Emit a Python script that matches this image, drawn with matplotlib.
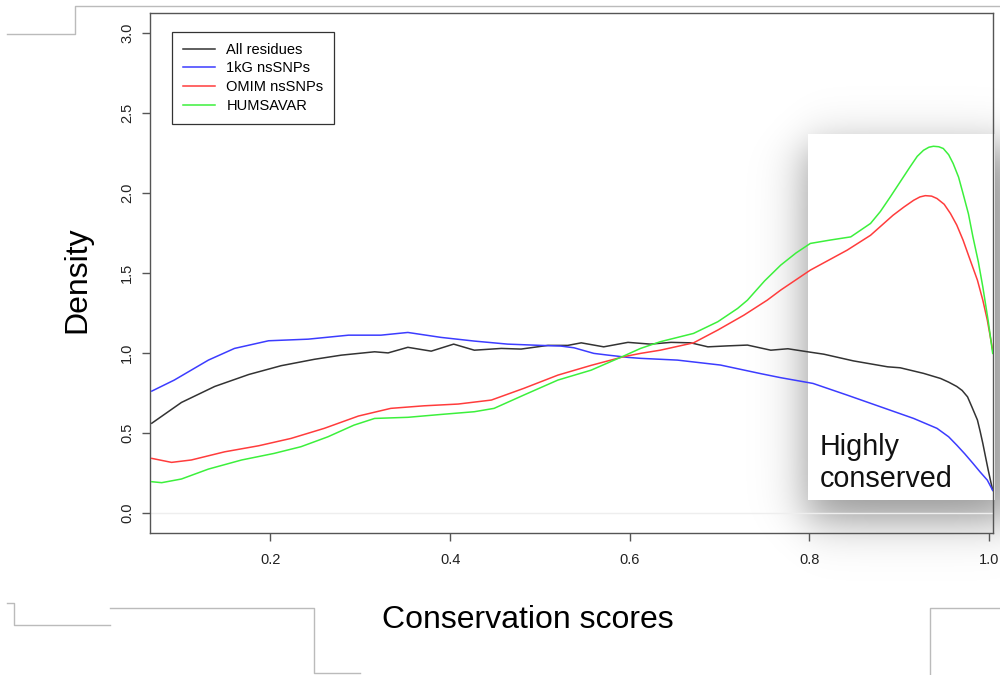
import numpy as np
import matplotlib
matplotlib.use("Agg")
import matplotlib.pyplot as plt
from matplotlib.lines import Line2D
from matplotlib.patches import Rectangle

plt.rcParams['font.family'] = ['Liberation Sans', 'DejaVu Sans']

W, H = 1000, 675

# density curves
x_all = [0.068, 0.101, 0.138, 0.176, 0.212, 0.249, 0.279, 0.316, 0.331, 0.353,
         0.379, 0.404, 0.427, 0.457, 0.479, 0.509, 0.531, 0.546, 0.571, 0.598,
         0.623, 0.646, 0.668, 0.687, 0.709, 0.731, 0.757, 0.776, 0.798, 0.816,
         0.849, 0.887, 0.901, 0.927, 0.946, 0.955, 0.964, 0.970, 0.976, 0.981,
         0.987, 0.990, 0.993, 0.996, 0.999, 1.002, 1.004]
y_all = [0.56, 0.69, 0.79, 0.865, 0.92, 0.96, 0.986, 1.007, 1.0, 1.035,
         1.011, 1.055, 1.017, 1.028, 1.024, 1.047, 1.047, 1.063, 1.038, 1.066,
         1.055, 1.066, 1.063, 1.038, 1.044, 1.049, 1.017, 1.026, 1.007, 0.992,
         0.95, 0.913, 0.907, 0.872, 0.84, 0.817, 0.79, 0.765, 0.725, 0.66,
         0.58, 0.51, 0.434, 0.35, 0.267, 0.19, 0.14]

x_1kg = [0.068, 0.093, 0.131, 0.160, 0.198, 0.242, 0.287, 0.323, 0.353, 0.390,
         0.427, 0.464, 0.501, 0.523, 0.538, 0.560, 0.576, 0.598, 0.612, 0.653,
         0.701, 0.746, 0.768, 0.804, 0.842, 0.879, 0.916, 0.942, 0.955, 0.964,
         0.973, 0.982, 0.990, 0.998, 1.004]
y_1kg = [0.761, 0.83, 0.955, 1.028, 1.076, 1.086, 1.111, 1.111, 1.128, 1.097,
         1.074, 1.055, 1.047, 1.043, 1.032, 0.997, 0.986, 0.972, 0.966, 0.955,
         0.924, 0.87, 0.845, 0.809, 0.736, 0.663, 0.59, 0.528, 0.475, 0.423,
         0.368, 0.309, 0.255, 0.204, 0.14]

x_omim = [0.068, 0.09, 0.112, 0.149, 0.187, 0.223, 0.260, 0.298, 0.334, 0.371,
          0.409, 0.446, 0.482, 0.52, 0.557, 0.593, 0.612, 0.634, 0.671, 0.698,
          0.727, 0.753, 0.768, 0.801, 0.842, 0.868, 0.893, 0.905, 0.916, 0.923,
          0.929, 0.936, 0.942, 0.950, 0.957, 0.964, 0.971, 0.979, 0.987, 0.993,
          0.998, 1.004]
y_omim = [0.34, 0.315, 0.33, 0.381, 0.419, 0.465, 0.528, 0.605, 0.653, 0.669,
          0.68, 0.705, 0.778, 0.861, 0.922, 0.976, 0.997, 1.017, 1.063, 1.143,
          1.236, 1.33, 1.393, 1.518, 1.643, 1.736, 1.861, 1.912, 1.955, 1.976,
          1.984, 1.981, 1.966, 1.93, 1.872, 1.80, 1.706, 1.58, 1.455, 1.33,
          1.205, 1.017]

x_hum = [0.068, 0.079, 0.101, 0.131, 0.168, 0.204, 0.234, 0.264, 0.293, 0.316,
         0.353, 0.39, 0.427, 0.449, 0.482, 0.52, 0.557, 0.593, 0.612, 0.634,
         0.671, 0.698, 0.72, 0.731, 0.75, 0.768, 0.785, 0.801, 0.823, 0.846,
         0.868, 0.879, 0.89, 0.901, 0.912, 0.92, 0.927, 0.933, 0.938, 0.944,
         0.949, 0.955, 0.96, 0.966, 0.971, 0.977, 0.982, 0.988, 0.993, 0.999,
         1.004]
y_hum = [0.194, 0.188, 0.211, 0.273, 0.33, 0.371, 0.413, 0.475, 0.548, 0.59,
         0.597, 0.615, 0.632, 0.653, 0.736, 0.83, 0.892, 0.98, 1.028, 1.07,
         1.122, 1.195, 1.278, 1.33, 1.45, 1.549, 1.625, 1.685, 1.706, 1.726,
         1.81, 1.885, 1.976, 2.07, 2.164, 2.23, 2.268, 2.287, 2.293, 2.29,
         2.279, 2.24, 2.185, 2.10, 1.997, 1.87, 1.726, 1.57, 1.413, 1.2,
         0.997]

labels = ['All residues', '1kG nsSNPs', 'OMIM nsSNPs', 'HUMSAVAR']
colors = ['#333333', '#3c3cff', '#ff3c3c', '#3cf03c']

x_ticks = [0.2, 0.4, 0.6, 0.8, 1.0]
y_ticks = [0.0, 0.5, 1.0, 1.5, 2.0, 2.5, 3.0]


def fx(px):
    return px / W


def fy(py):
    return 1 - py / H


fig = plt.figure(figsize=(10, 6.75), dpi=100, facecolor='white')

# drop shadow of the "Highly conserved" box (slide decoration)
yy, xx = np.mgrid[0:H, 0:W]


def edge(t, s=13.0):
    return 1.0 / (1.0 + np.exp(-t / s))


alpha = 0.42 * edge(xx - 806) * edge(1016 - xx) * edge(yy - 146) * edge(520 - yy)
shadow = np.zeros((H, W, 4))
shadow[..., 3] = alpha
fig.figimage(shadow, 0, 0, origin='upper', zorder=-2)
fig.add_artist(Rectangle((fx(808), fy(500)), fx(995) - fx(808), fy(134) - fy(500),
                         transform=fig.transFigure, facecolor='white',
                         edgecolor='none', zorder=-1))

# slide frame lines
for path in [[(7, 34), (75, 34), (75, 6), (1000, 6)],
             [(7, 603), (14, 603), (14, 625), (110, 625)],
             [(110, 608), (314, 608), (314, 673), (360, 673)],
             [(930, 675), (930, 608), (1000, 608)]]:
    xs, ys = zip(*path)
    fig.add_artist(Line2D([fx(p) for p in xs], [fy(p) for p in ys],
                          transform=fig.transFigure, color='#bbbbbb', lw=1.0))

ax = fig.add_axes([fx(150), fy(532.7), fx(992.7) - fx(150), fy(13.3) - fy(532.7)])
ax.set_facecolor('none')

ax.axhline(0, color='#eeeeee', lw=1.0, zorder=1)
for xs, ys, lab, c in zip([x_all, x_1kg, x_omim, x_hum],
                          [y_all, y_1kg, y_omim, y_hum], labels, colors):
    ax.plot(xs, ys, color=c, lw=1.1, label=lab, zorder=3)

ax.set_xlim(0.066, 1.004)
ax.set_ylim(-0.125, 3.125)
ax.set_xticks(x_ticks)
ax.set_xticklabels(['%.1f' % v for v in x_ticks])
ax.set_yticks(y_ticks)
ax.set_yticklabels(['%.1f' % v for v in y_ticks])
ax.tick_params(axis='both', direction='out', length=5.5, width=1.0,
               color='#555555', labelsize=10.5, labelcolor='#222222')
ax.tick_params(axis='x', pad=9)
ax.tick_params(axis='y', pad=6, labelrotation=90)
plt.setp(ax.get_yticklabels(), va='center')
for sp in ax.spines.values():
    sp.set_color('#555555')
    sp.set_linewidth(1.0)

leg = ax.legend(loc='upper left', bbox_to_anchor=(0.0258, 0.9646),
                borderaxespad=0, fontsize=10.5, frameon=True, fancybox=False,
                framealpha=1, edgecolor='#333333', handlelength=2.2,
                handletextpad=0.8, borderpad=0.75, labelspacing=0.33)
leg.get_frame().set_linewidth(0.9)

fig.text(fx(820), fy(455), 'Highly', fontsize=20.7, color='#111111', va='baseline')
fig.text(fx(820), fy(486.7), 'conserved', fontsize=20.7, color='#111111', va='baseline')

fig.text(fx(528), fy(620), 'Conservation scores', fontsize=23, ha='center', va='center')
fig.text(fx(77), fy(280), 'Density', fontsize=23, rotation=90, ha='center', va='center')

fig.savefig('out.png', dpi=100)
